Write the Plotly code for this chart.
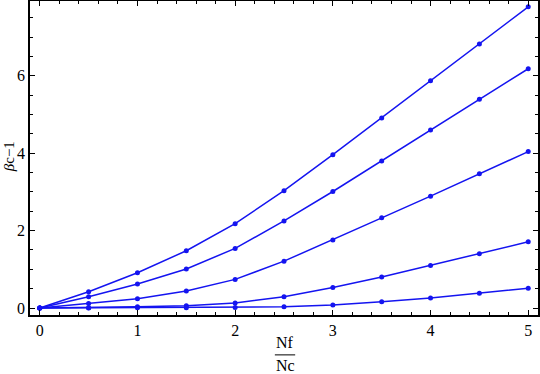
import plotly.graph_objects as go

x_vals = [0, 0.5, 1, 1.5, 2, 2.5, 3, 3.5, 4, 4.5, 5]
series_1 = [0, 0.42, 0.91, 1.48, 2.18, 3.03, 3.96, 4.91, 5.87, 6.82, 7.78]
series_2 = [0, 0.29, 0.62, 1.01, 1.54, 2.25, 3.01, 3.80, 4.60, 5.39, 6.18]
series_3 = [0, 0.12, 0.24, 0.44, 0.74, 1.21, 1.76, 2.33, 2.89, 3.47, 4.04]
series_4 = [0, 0.01, 0.03, 0.06, 0.13, 0.29, 0.53, 0.80, 1.10, 1.40, 1.71]
series_5 = [0, 0.003, 0.006, 0.01, 0.015, 0.03, 0.08, 0.16, 0.26, 0.38, 0.51]
x_ticks = [0, 1, 2, 3, 4, 5]
y_ticks = [0, 2, 4, 6]

color = "rgb(20,20,240)"
fig = go.Figure()
for s in [series_1, series_2, series_3, series_4, series_5]:
    fig.add_trace(go.Scatter(x=x_vals, y=s, mode="lines+markers",
                             line=dict(color=color, width=1.5),
                             marker=dict(color=color, size=5),
                             showlegend=False, hoverinfo="skip"))

font = dict(family="Liberation Serif, Times New Roman, serif", size=16, color="black")
axis_common = dict(showgrid=False, zeroline=False, showline=True, linecolor="black",
                   linewidth=1.5, mirror="ticks", ticks="inside", ticklen=5, tickwidth=1,
                   tickcolor="black", tickfont=font, automargin=False)
fig.update_xaxes(range=[-0.1, 5.1], tickvals=x_ticks,
                 minor=dict(dtick=0.2, tick0=0, ticks="inside", ticklen=3, tickcolor="black", tickwidth=1),
                 **axis_common)
fig.update_yaxes(range=[-0.18, 7.93], tickvals=y_ticks,
                 minor=dict(dtick=0.5, tick0=0, ticks="inside", ticklen=3, tickcolor="black", tickwidth=1),
                 **axis_common)

fig.add_annotation(text="<i>β</i>c−1", xref="paper", yref="paper", x=-0.041, y=0.503,
                   textangle=-90, showarrow=False,
                   font=dict(family="Liberation Serif, Times New Roman, serif", size=15, color="black"),
                   xanchor="center", yanchor="middle")
fig.add_annotation(text="Nf", xref="paper", yref="paper", x=0.502, y=-0.089,
                   showarrow=False, font=font, xanchor="center", yanchor="middle")
fig.add_annotation(text="Nc", xref="paper", yref="paper", x=0.502, y=-0.162,
                   showarrow=False, font=font, xanchor="center", yanchor="middle")
fig.add_shape(type="line", xref="paper", yref="paper", x0=0.482, x1=0.522, y0=-0.127, y1=-0.127,
              line=dict(color="black", width=1))

fig.update_layout(width=540, height=374, margin=dict(l=30, r=2, t=1, b=59),
                  plot_bgcolor="white", paper_bgcolor="white", font=font)
fig.write_html("out.html", config={"displayModeBar": False},
               post_script="document.body.style.margin='0';")
